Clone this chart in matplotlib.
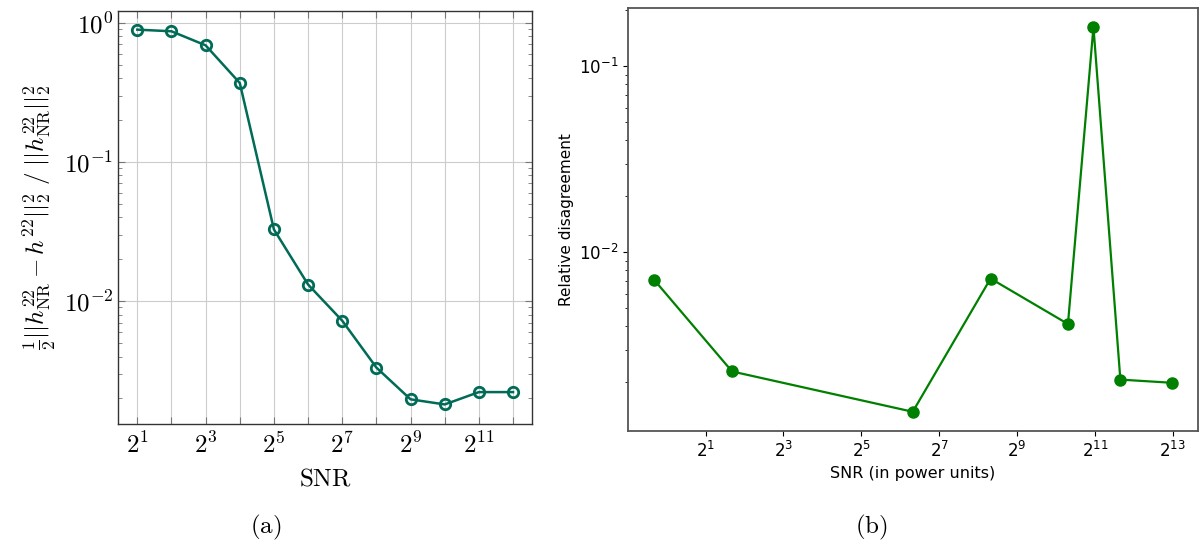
import math
import matplotlib
matplotlib.use("Agg")
import matplotlib.pyplot as plt
from matplotlib.ticker import LogLocator, FixedLocator, NullFormatter, FuncFormatter

# (a) error vs SNR (powers of two)
snr_a = [2, 4, 8, 16, 32, 64, 128, 256, 512, 1024, 2048, 4096]
err_a = [0.892, 0.868, 0.688, 0.369, 0.0327, 0.01315, 0.00723, 0.00333,
         0.00197, 0.00181, 0.00222, 0.00222]

# (b) relative disagreement vs SNR (power units)
snr_b = [0.8, 3.2, 80, 320, 1270, 2000, 3230, 8080]
dis_b = [0.00711, 0.00229, 0.00139, 0.00723, 0.00412, 0.163, 0.00207, 0.00199]

teal = "#006b56"

fig = plt.figure(figsize=(12, 5.41), dpi=100)

# ---- left panel, pgfplots look ----
ax1 = fig.add_axes([0.0986, 0.2163, 0.345, 0.7639])
ax1.plot(snr_a, err_a, "-o", color=teal, lw=1.8, ms=7.5, mfc="none", mew=2, zorder=3)
ax1.set_xscale("log", base=2)
ax1.set_yscale("log")
ax1.set_xlim(2 ** 0.444, 2 ** 12.565)
ax1.set_ylim(1.31e-3, 1.22)

ax1.xaxis.set_major_locator(FixedLocator([2 ** k for k in range(1, 13)]))
ax1.xaxis.set_minor_locator(FixedLocator([]))
ax1.xaxis.set_major_formatter(FuncFormatter(
    lambda v, p: r"$2^{%d}$" % round(math.log2(v)) if round(math.log2(v)) % 2 == 1 else ""))
ax1.yaxis.set_major_locator(FixedLocator([1e-2, 1e-1, 1]))
ax1.yaxis.set_minor_locator(LogLocator(base=10, subs=range(2, 10)))
ax1.yaxis.set_minor_formatter(NullFormatter())
ax1.yaxis.set_major_formatter(FuncFormatter(lambda v, p: r"$10^{%d}$" % round(math.log10(v))))

ax1.grid(True, which="major", color="#cccccc", lw=0.8)
ax1.tick_params(which="both", direction="in", top=True, right=True,
                color="#777777", labelsize=18)
ax1.tick_params(which="major", length=5)
ax1.tick_params(which="minor", length=3)
ax1.tick_params(axis="x", pad=6)
for lab in ax1.get_xticklabels() + ax1.get_yticklabels():
    lab.set_math_fontfamily("cm")
for s in ax1.spines.values():
    s.set_color("#333333")
    s.set_linewidth(1.0)

ax1.set_xlabel(r"$\mathrm{SNR}$", fontsize=18, math_fontfamily="cm", labelpad=6)
ax1.set_ylabel(r"$\frac{1}{2}||h^{22}_{\mathrm{NR}}-h^{22}||_2^2\ /\ ||h^{22}_{\mathrm{NR}}||_2^2$",
               fontsize=18, math_fontfamily="cm", labelpad=4)

# ---- right panel, matplotlib look ----
ax2 = fig.add_axes([0.5236, 0.2033, 0.4745, 0.7826])
ax2.plot(snr_b, dis_b, "-o", color="green", lw=1.6, ms=8)
ax2.set_xscale("log", base=2)
ax2.set_yscale("log")
ax2.xaxis.set_major_locator(FixedLocator([2 ** k for k in range(1, 14, 2)]))
ax2.xaxis.set_minor_locator(FixedLocator([]))
ax2.tick_params(labelsize=12)
for s in ax2.spines.values():
    s.set_color("#555555")
    s.set_linewidth(1.3)
ax2.set_xlabel("SNR (in power units)", fontsize=11.5, labelpad=4)
ax2.set_ylabel("Relative disagreement", fontsize=11)

fig.text(266 / 1200, 1 - 527 / 541, r"$\mathrm{(a)}$", fontsize=18, ha="center",
         va="center", math_fontfamily="cm")
fig.text(871 / 1200, 1 - 527 / 541, r"$\mathrm{(b)}$", fontsize=18, ha="center",
         va="center", math_fontfamily="cm")

fig.savefig("out.png", dpi=100)
